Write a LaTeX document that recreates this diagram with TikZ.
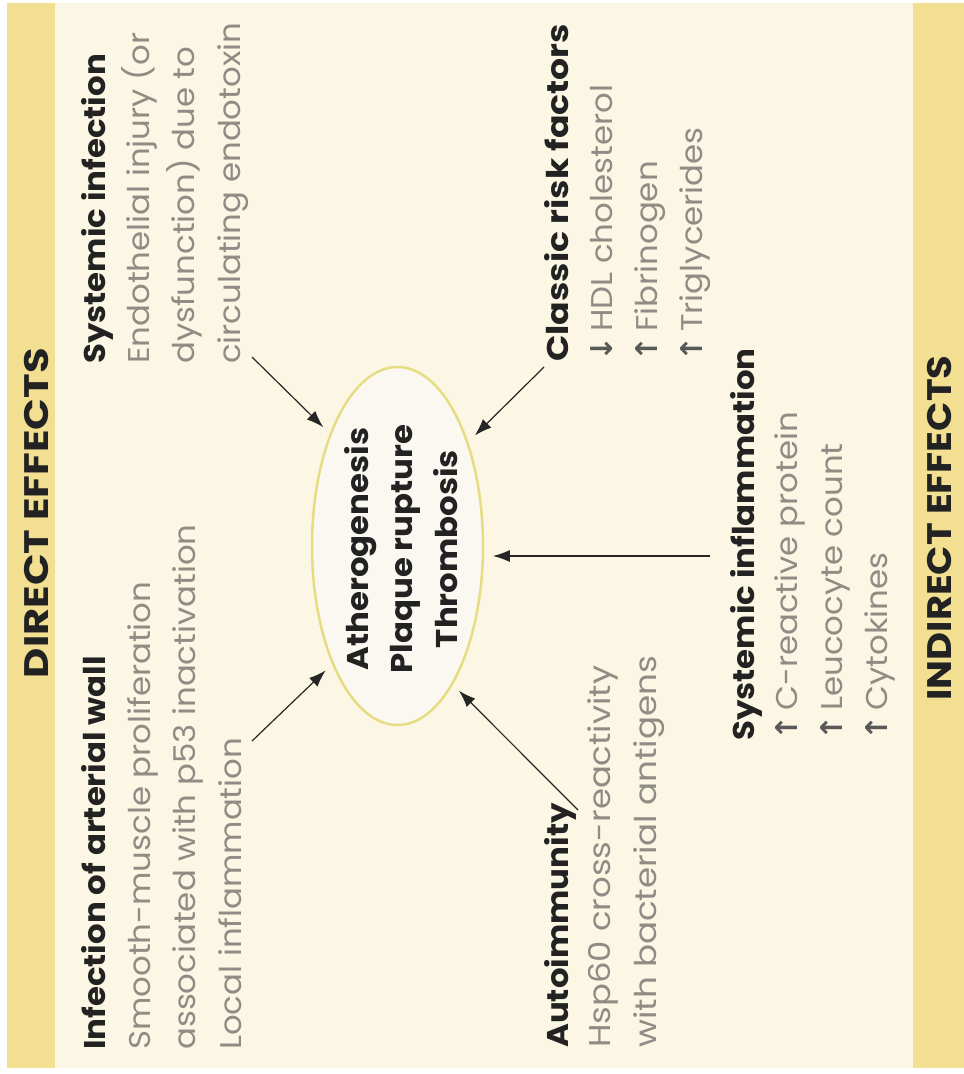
\documentclass[tikz,border=0pt]{standalone}
\usepackage{fontspec}
\setmainfont{Poppins}[FakeStretch=1.08]
\newfontfamily\arrowfont{DejaVu Sans}
\usetikzlibrary{arrows.meta,shapes.geometric}
\definecolor{band}{HTML}{F2DF92}
\definecolor{paper}{HTML}{FCF7E4}
\definecolor{ellfill}{HTML}{FAF8F0}
\definecolor{ellline}{HTML}{E6DC84}
\definecolor{bodytxt}{HTML}{8E8C84}
\definecolor{headtxt}{HTML}{222222}
\newcommand{\up}{{\arrowfont\bfseries\color{headtxt!75}↑}\,}
\newcommand{\down}{{\arrowfont\bfseries\color{headtxt!75}↓}\,}
\newcommand{\fitto}[2]{\resizebox{#1}{\height}{#2}}
\begin{document}
\begin{tikzpicture}[x=1pt,y=-1pt,
  txt/.style={rotate=90,anchor=base west,inner sep=0pt,font=\fontsize{30}{30}\selectfont,text=bodytxt},
  hd/.style={rotate=90,anchor=base west,inner sep=0pt,font=\fontsize{30}{30}\selectfont\bfseries,text=headtxt},
  elltxt/.style={rotate=90,anchor=base,inner sep=0pt,font=\fontsize{30}{30}\selectfont\bfseries,text=headtxt},
  bandtitle/.style={rotate=90,anchor=center,inner sep=0pt,font=\fontsize{34}{34}\selectfont\bfseries,text=headtxt},
  conn/.style={draw=black!85,line width=1.2pt,-{Latex[length=17pt,width=12pt]}}]

\fill[white] (0,0) rectangle (964,1074);
\useasboundingbox (0,0) rectangle (964,1074);
\fill[paper] (55,3) rectangle (913,1068);
\fill[band] (7,3) rectangle (55,1068);
\fill[band] (913,3) rectangle (964,1068);

\node[bandtitle] (dt) at (37,513) {\fitto{330pt}{DIRECT EFFECTS}};
\node[bandtitle] (it) at (940,528) {\fitto{345pt}{INDIRECT EFFECTS}};

\node[ellipse,draw=ellline,line width=2.5pt,fill=ellfill,minimum width=171pt,minimum height=358pt,inner sep=0pt,outer sep=10pt] (ell) at (397.5,546) {};
\node[elltxt] (e1) at (368,549) {Atherogenesis};
\node[elltxt] (e2) at (412,549) {Plaque rupture};
\node[elltxt] (e3) at (457,549) {Thrombosis};

% Infection of arterial wall
\node[hd] (ia0) at (105,1050) {Infection of arterial wall};
\node[txt] (ia1) at (150,1050) {Smooth-muscle proliferation};
\node[txt] (ia2) at (195,1050) {associated with p53 inactivation};
\node[txt] (ia3) at (241,1050) {Local inflammation};

% Systemic infection
\node[hd] (si0) at (105,364) {Systemic infection};
\node[txt] (si1) at (149,364) {Endothelial injury (or};
\node[txt] (si2) at (194,364) {dysfunction) due to};
\node[txt] (si3) at (240,364) {circulating endotoxin};

% Classic risk factors
\node[hd] (cr0) at (568,362) {\fitto{338pt}{Classic risk factors}};
\node[txt] (cr1) at (612,362) {\down HDL cholesterol};
\node[txt] (cr2) at (657,362) {\up Fibrinogen};
\node[txt] (cr3) at (702,362) {\up Triglycerides};

% Autoimmunity
\node[hd] (au0) at (568,1048) {Autoimmunity};
\node[txt] (au1) at (610,1048) {\fitto{382pt}{Hsp60 cross-reactivity}};
\node[txt] (au2) at (656,1048) {\fitto{392pt}{with bacterial antigens}};

% Systemic inflammation
\node[hd] (sf0) at (754,741) {Systemic inflammation};
\node[txt] (sf1) at (797,741) {\up C-reactive protein};
\node[txt] (sf2) at (842,741) {\up Leucocyte count};
\node[txt] (sf3) at (887,741) {\up Cytokines};

\coordinate (tSI) at (252,357);
\coordinate (tCR) at (544,367);
\coordinate (tSF) at (710,556);
\coordinate (tIA) at (252,741);
\coordinate (tAU) at (578,810);

\draw[conn] (tSI) -- (ell.122.7);
\draw[conn] (tCR) -- (ell.55.1);
\draw[conn] (tSF) -- (tSF -| ell.-6);
\draw[conn] (tIA) -- (ell.240.3);
\draw[conn] (tAU) -- (ell.293.7);
\end{tikzpicture}
\end{document}
